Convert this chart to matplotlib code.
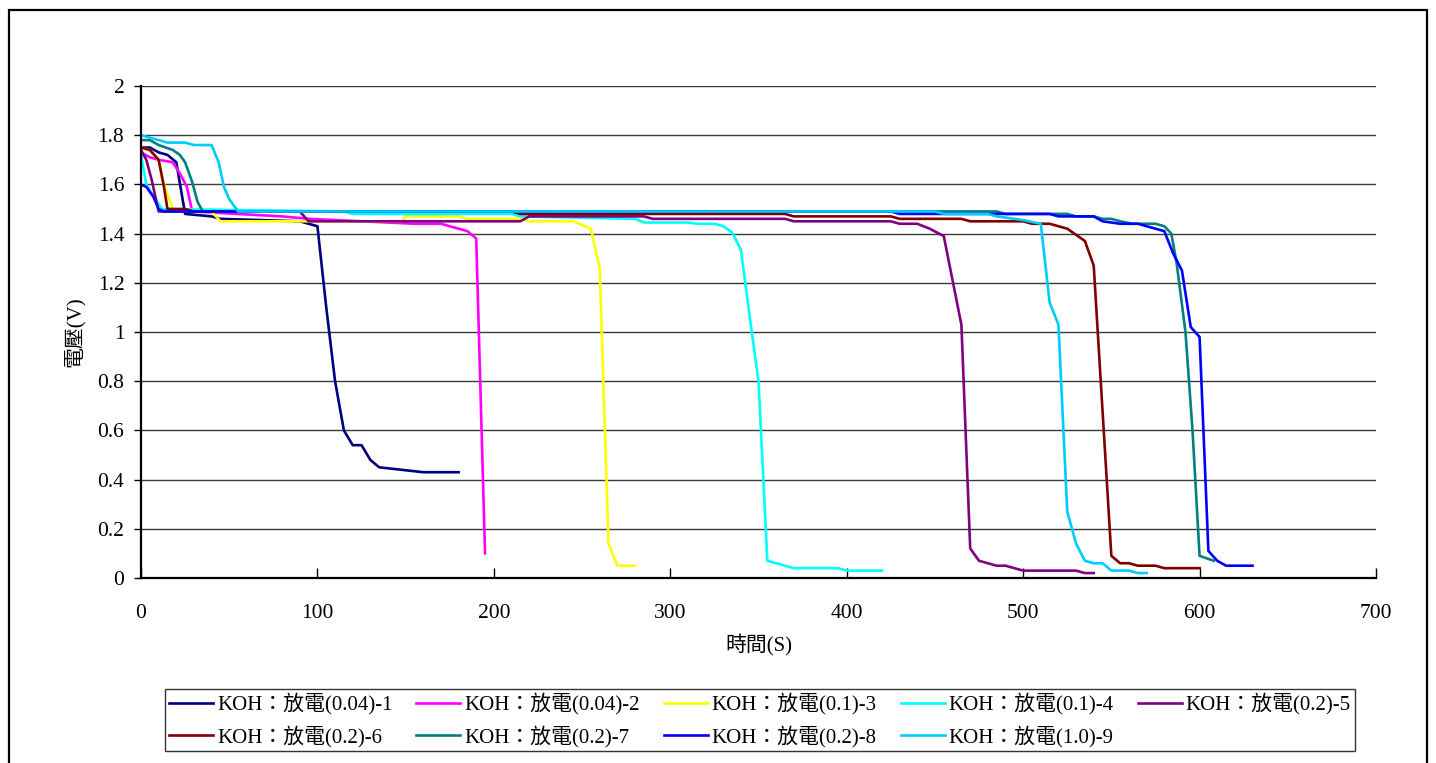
import matplotlib
matplotlib.use('Agg')
import matplotlib.pyplot as plt
from matplotlib.patches import Rectangle

plt.rcParams['font.family'] = ['Liberation Serif', 'Noto Sans CJK TC', 'DejaVu Sans']

# 放電曲線資料 (時間 s, 電壓 V)
t1 = [0, 5, 10, 15, 20, 25, 40, 45, 90, 100, 105, 110, 115, 120, 125, 130, 135, 160, 180]
v1 = [1.75, 1.75, 1.73, 1.72, 1.69, 1.48, 1.47, 1.46, 1.45, 1.43, 1.10, 0.80, 0.60, 0.54, 0.54, 0.48, 0.45, 0.43, 0.43]

t2 = [0, 5, 10, 18, 22, 26, 29, 80, 95, 155, 170, 185, 190, 195]
v2 = [1.73, 1.71, 1.70, 1.69, 1.645, 1.59, 1.49, 1.47, 1.46, 1.44, 1.44, 1.41, 1.38, 0.10]

t3 = [0, 5, 10, 13, 18, 40, 45, 148, 150, 180, 185, 215, 220, 245, 255, 260, 265, 270, 280]
v3 = [1.75, 1.74, 1.70, 1.60, 1.50, 1.49, 1.45, 1.45, 1.47, 1.47, 1.46, 1.46, 1.45, 1.45, 1.42, 1.26, 0.14, 0.05, 0.05]

t4 = [0, 3, 8, 12, 115, 120, 210, 215, 280, 285, 310, 315, 325, 330, 335, 340, 346, 350, 355, 370, 395, 400, 420]
v4 = [1.72, 1.60, 1.54, 1.50, 1.49, 1.48, 1.48, 1.47, 1.46, 1.445, 1.445, 1.44, 1.44, 1.43, 1.405, 1.335, 1.01, 0.80, 0.07, 0.04, 0.04, 0.03, 0.03]

t5 = [0, 3, 6, 10, 90, 95, 215, 220, 285, 290, 365, 370, 425, 430, 440, 447, 455, 465, 470, 475, 485, 490, 500, 530, 535, 540]
v5 = [1.74, 1.70, 1.62, 1.49, 1.49, 1.45, 1.45, 1.47, 1.47, 1.46, 1.46, 1.45, 1.45, 1.44, 1.44, 1.42, 1.39, 1.03, 0.12, 0.07, 0.05, 0.05, 0.03, 0.03, 0.02, 0.02]

t6 = [0, 5, 10, 13, 15, 25, 30, 210, 215, 365, 370, 425, 430, 465, 470, 500, 505, 515, 525, 535, 540, 550, 555, 560, 565, 575, 580, 600]
v6 = [1.75, 1.74, 1.70, 1.59, 1.50, 1.50, 1.49, 1.49, 1.48, 1.48, 1.47, 1.47, 1.46, 1.46, 1.45, 1.45, 1.44, 1.44, 1.42, 1.37, 1.27, 0.09, 0.06, 0.06, 0.05, 0.05, 0.04, 0.04]

t7 = [0, 5, 10, 18, 22, 25, 29, 32, 35, 485, 490, 525, 530, 540, 545, 550, 555, 562, 575, 580, 584, 587, 592, 596, 600, 608]
v7 = [1.78, 1.78, 1.76, 1.74, 1.72, 1.69, 1.61, 1.53, 1.49, 1.49, 1.48, 1.48, 1.47, 1.47, 1.46, 1.46, 1.45, 1.44, 1.44, 1.43, 1.40, 1.28, 1.00, 0.60, 0.09, 0.07]

t8 = [0, 3, 7, 10, 13, 425, 430, 515, 520, 540, 545, 555, 565, 580, 585, 590, 595, 600, 605, 610, 615, 630]
v8 = [1.60, 1.59, 1.55, 1.50, 1.49, 1.49, 1.48, 1.48, 1.47, 1.47, 1.45, 1.44, 1.44, 1.41, 1.32, 1.25, 1.02, 0.98, 0.11, 0.07, 0.05, 0.05]

t9 = [0, 5, 15, 25, 30, 40, 44, 47, 50, 55, 450, 455, 480, 485, 500, 510, 515, 520, 525, 530, 535, 540, 545, 550, 560, 565, 570]
v9 = [1.80, 1.79, 1.77, 1.77, 1.76, 1.76, 1.69, 1.59, 1.54, 1.49, 1.49, 1.48, 1.48, 1.47, 1.455, 1.44, 1.12, 1.03, 0.27, 0.14, 0.07, 0.06, 0.06, 0.03, 0.03, 0.02, 0.02]

labels = ['KOH：放電(0.04)-1', 'KOH：放電(0.04)-2', 'KOH：放電(0.1)-3',
          'KOH：放電(0.1)-4', 'KOH：放電(0.2)-5', 'KOH：放電(0.2)-6',
          'KOH：放電(0.2)-7', 'KOH：放電(0.2)-8', 'KOH：放電(1.0)-9']
colors = ['#000080', '#FF00FF', '#FFFF00', '#00FFFF', '#800080',
          '#800000', '#008080', '#0000FF', '#00CCFF']
series = [(t1, v1), (t2, v2), (t3, v3), (t4, v4), (t5, v5),
          (t6, v6), (t7, v7), (t8, v8), (t9, v9)]

fig = plt.figure(figsize=(14.36, 7.63), dpi=100)
ax = fig.add_axes([141 / 1436, 1 - 578 / 763, 1235 / 1436, 492 / 763])

lines = []
for (t, v), c, lab in zip(series, colors, labels):
    ln, = ax.plot(t, v, color=c, lw=1.9, label=lab, solid_joinstyle='round')
    lines.append(ln)

ax.set_xlim(0, 700)
ax.set_ylim(0, 2)
ax.set_xticks(range(0, 701, 100))
ax.set_yticks([0, 0.2, 0.4, 0.6, 0.8, 1, 1.2, 1.4, 1.6, 1.8, 2])
ax.set_yticklabels(['0', '0.2', '0.4', '0.6', '0.8', '1', '1.2', '1.4', '1.6', '1.8', '2'])
ax.yaxis.grid(True, color='#3a3a3a', lw=1.0)
ax.set_axisbelow(True)

for s in ['top', 'right']:
    ax.spines[s].set_visible(False)
for s in ['left', 'bottom']:
    ax.spines[s].set_linewidth(1.6)
    ax.spines[s].set_color('black')

ax.tick_params(axis='x', direction='in', length=7, width=1, labelsize=15.5, pad=19)
ax.tick_params(axis='y', direction='out', length=5, width=1, labelsize=15.5, pad=7)

ax.set_xlabel('時間(S)', fontsize=15, labelpad=8)
ax.set_ylabel('電壓(V)', fontsize=15, labelpad=9)

# 圖例：兩列，逐列排列
order = [0, 5, 1, 6, 2, 7, 3, 8, 4]
leg = fig.legend([lines[i] for i in order], [labels[i] for i in order],
                 loc='center', bbox_to_anchor=(760 / 1436, 1 - 720 / 763),
                 ncol=5, fontsize=15, frameon=True, fancybox=False,
                 edgecolor='black', handlelength=2.1, handletextpad=0.2,
                 columnspacing=1.15, labelspacing=0.5, borderpad=0.2,
                 borderaxespad=0)
leg.get_frame().set_linewidth(1.0)

# 外框
fig.patches.append(Rectangle((9 / 1436, -0.02), 1418 / 1436, 1 - 10 / 763 + 0.02,
                             transform=fig.transFigure, fill=False,
                             edgecolor='black', lw=1.6))

fig.savefig('out.png', dpi=100)
